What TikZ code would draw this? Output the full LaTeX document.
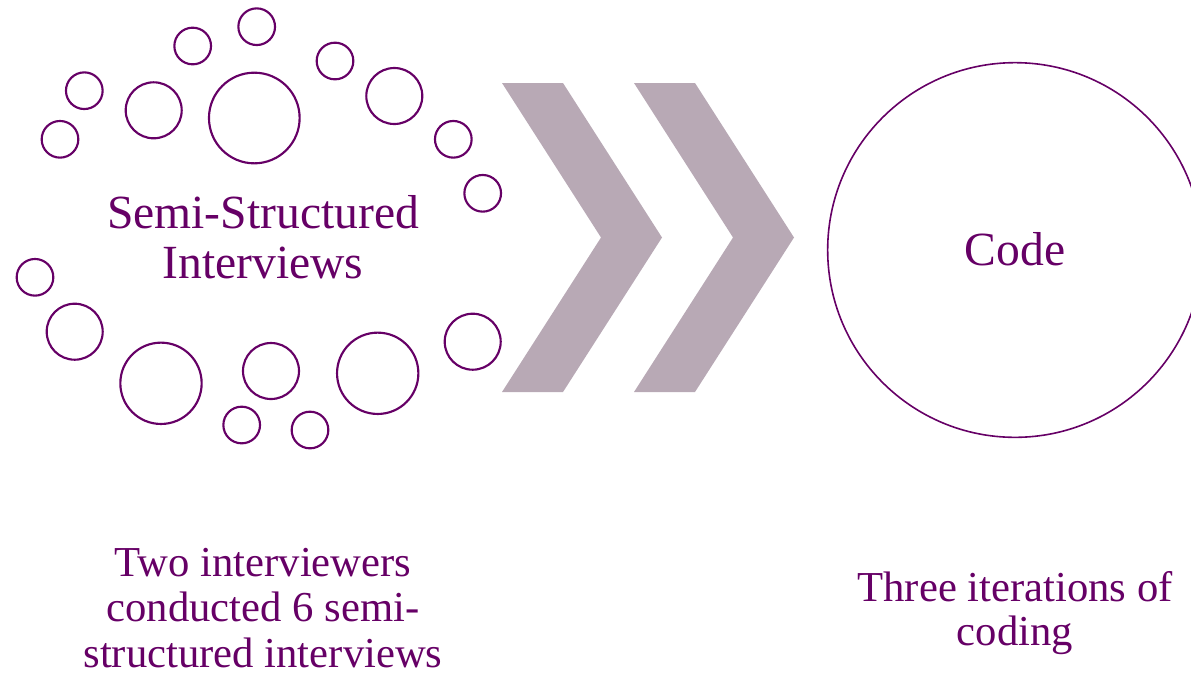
\documentclass[tikz,border=0pt]{standalone}
\usepackage{fontspec}
\setmainfont{Liberation Serif}
\usepackage{tikz}
\usetikzlibrary{positioning,calc}
\definecolor{plum}{HTML}{660066}
\definecolor{mauve}{HTML}{B8A9B5}
\tikzset{x=0.75pt, y=-0.75pt}
\tikzset{bub/.style={circle,draw=plum,line width=1.6pt,inner sep=0pt,minimum size=#1}}
\tikzset{big/.style={circle,draw=plum,line width=1.2pt,inner sep=0pt,minimum size=281pt,text=plum,font=\fontsize{35.7}{37}\selectfont}}
\tikzset{lab/.style={align=center,inner sep=0pt,text=plum}}
\tikzset{chev/.style={fill=mauve}}
\begin{document}
\begin{tikzpicture}
        \useasboundingbox (0,0) rectangle (1191,672);
        % bubbles
        \node (b1) [bub=27.5pt] at (256.7,26.7) {};
        \node (b2) [bub=27.5pt] at (192.7,46) {};
        \node (b3) [bub=27.5pt] at (335,61) {};
        \node (b4) [bub=27.5pt] at (84.3,90.7) {};
        \node (b5) [bub=27.5pt] at (60,139.3) {};
        \node (b6) [bub=42pt] at (153.7,110.3) {};
        \node (b7) [bub=68pt] at (254.3,118) {};
        \node (b8) [bub=42pt] at (394.3,96) {};
        \node (b9) [bub=27.5pt] at (453.3,139.3) {};
        \node (b10) [bub=27.5pt] at (482.7,193.3) {};
        \node (b11) [bub=27.5pt] at (35,277.3) {};
        \node (b12) [bub=42pt] at (74.7,331.7) {};
        \node (b13) [bub=61pt] at (161,383.3) {};
        \node (b14) [bub=42pt] at (271,371) {};
        \node (b15) [bub=61pt] at (377.7,373.3) {};
        \node (b16) [bub=42pt] at (472.7,341.7) {};
        \node (b17) [bub=27.5pt] at (241.7,425) {};
        \node (b18) [bub=27.5pt] at (310,430) {};
        \node (si) [lab, anchor=base, font=\fontsize{35.7}{36.8}\selectfont] at (263,278) {Semi-Structured\\Interviews};
        \node (t1) [lab, below=202pt of si, font=\fontsize{32}{34}\selectfont] {Two interviewers\\conducted 6 semi-\\structured interviews};
        % chevrons
        \fill[chev] (502,83) -- (563,83) -- (662,237.5) -- (563,392) -- (502,392) -- (601,237.5) -- cycle;
        \fill[chev] (634,83) -- (695,83) -- (794,237.5) -- (695,392) -- (634,392) -- (733,237.5) -- cycle;
        \node (code) [big] at (1015,250) {\raisebox{2pt}{Code}};
        \node (t2) [lab, below=100pt of code, font=\fontsize{32}{32.5}\selectfont] {Three iterations of\\coding};
\end{tikzpicture}
\end{document}
